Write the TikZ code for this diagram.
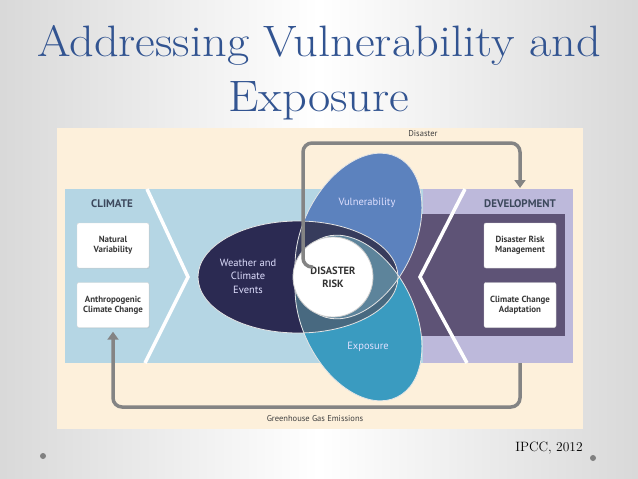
\documentclass[tikz,border=0pt]{standalone}
\usepackage{fontspec}
\setsansfont{PT Sans}
\usepackage{tikz}
\usetikzlibrary{arrows.meta, shadows}

\definecolor{titleblue}{RGB}{50,84,145}
\definecolor{cream}{RGB}{253,240,219}
\definecolor{climblue}{RGB}{181,214,228}
\definecolor{devlav}{RGB}{189,185,219}
\definecolor{devdark}{RGB}{94,83,118}
\definecolor{wxnavy}{RGB}{43,42,82}
\definecolor{vulnblue}{RGB}{92,130,190}
\definecolor{expoteal}{RGB}{58,155,192}
\definecolor{vxnavy}{RGB}{55,60,92}
\definecolor{exnavy}{RGB}{72,105,128}
\definecolor{vexteal}{RGB}{93,132,155}
\definecolor{loopgray}{RGB}{132,132,132}
\definecolor{boxtext}{RGB}{55,55,55}
\definecolor{bandtext}{RGB}{60,72,92}

\begin{document}
\begin{tikzpicture}[x=1pt, y=-1pt,
  sidebox/.style={draw=gray!30, fill=white, rounded corners=2pt, minimum width=72pt, minimum height=45pt, align=center, text=boxtext, drop shadow={opacity=0.15, shadow xshift=0.8pt, shadow yshift=-0.8pt}, font=\sffamily\bfseries\fontsize{8.9}{10}\selectfont},
  bandlabel/.style={text=bandtext, font=\sffamily\bfseries\fontsize{11}{12}\selectfont},
  petaltext/.style={text=white!88!blue, align=center, font=\sffamily\fontsize{10.5}{13.5}\selectfont},
  looplabel/.style={text=black!75, font=\sffamily\fontsize{8.5}{9}\selectfont},
  loopline/.style={draw=loopgray, line width=3.5pt, rounded corners=9pt},
  chevron/.style={draw=white, line width=3.5pt},
  petaledge/.style={draw=white!80!gray, line width=0.8pt}]
  \useasboundingbox (0,0) rectangle (638,479);
  \shade[left color=black!15, right color=black!15, middle color=white] (0,0) rectangle (638,479);

  % title
  \begin{scope}[xscale=1.1, transform shape]
    \node[anchor=base, text=titleblue, align=center, font=\fontsize{44}{55}\selectfont] (title) at (290,111) {Addressing Vulnerability and\\Exposure};
  \end{scope}

  % panel and bands
  \fill[cream] (57,128) rectangle (583,429);
  \fill[climblue] (65,189) rectangle (423,363);
  \fill[devlav] (423,189) rectangle (573,363);
  \fill[devdark] (380,214) rectangle (565,336);
  \draw[chevron] (147,189) -- (188,277) -- (145,363);
  \draw[chevron] (465,189) -- (420,277) -- (467,363);

  \node[bandlabel] (climate) at (112,204) {CLIMATE};
  \node[bandlabel] (development) at (520,204) {DEVELOPMENT};
  \node[sidebox] (natural) at (113,245.5) {Natural\\Variability};
  \node[sidebox] (anthro) at (113,305) {Anthropogenic\\Climate Change};
  \node[sidebox] (drm) at (520,245.5) {Disaster Risk\\Management};
  \node[sidebox] (cca) at (520,305) {Climate Change\\Adaptation};

  % petals
  \fill[wxnavy] (298,277) ellipse (100 and 56);
  \fill[vulnblue, rotate around={64:(358.5,236)}] (358.5,236) ellipse (88 and 56);
  \fill[expoteal, rotate around={-64:(358.5,318)}] (358.5,318) ellipse (88 and 56);
  \begin{scope}
    \clip (298,277) ellipse (100 and 56);
    \fill[vxnavy, rotate around={64:(358.5,236)}] (358.5,236) ellipse (88 and 56);
    \fill[exnavy, rotate around={-64:(358.5,318)}] (358.5,318) ellipse (88 and 56);
  \end{scope}
  \begin{scope}
    \clip[rotate around={64:(358.5,236)}] (358.5,236) ellipse (88 and 56);
    \fill[vexteal, rotate around={-64:(358.5,318)}] (358.5,318) ellipse (88 and 56);
  \end{scope}
  \draw[petaledge] (298,277) ellipse (100 and 56);
  \draw[petaledge, rotate around={64:(358.5,236)}] (358.5,236) ellipse (88 and 56);
  \draw[petaledge, rotate around={-64:(358.5,318)}] (358.5,318) ellipse (88 and 56);

  \node[petaltext] (weather) at (248,276) {Weather and\\Climate\\Events};
  \node[petaltext] (vuln) at (367,203) {Vulnerability};
  \node[petaltext] (expo) at (368,347) {Exposure};
  \node[circle, fill=white, draw=gray!40, line width=0.8pt, minimum size=80pt, inner sep=0pt, align=center, text=black!80, font=\sffamily\bfseries\fontsize{10.5}{13}\selectfont] (risk) at (333,277) {DISASTER\\RISK};

  % loops
  \coordinate (riskin) at (313,267);
  \coordinate (devtop) at (520,188);
  \coordinate (devbottom) at (520,363);
  \draw[loopline, -{Triangle[length=8pt, width=11pt]}] (riskin) -- ++(-10,0) |- ([yshift=45pt]devtop) -- (devtop);
  \draw[loopline, -{Triangle[length=8pt, width=11pt]}] (devbottom) -- ++(0,44) -| ([yshift=-4pt]anthro.south);
  \node[looplabel] (disaster) at (423,134) {Disaster};
  \node[looplabel] (ghg) at (315,419) {Greenhouse Gas Emissions};

  \node[font=\fontsize{13.5}{16}\selectfont] (source) at (549,448) {IPCC, 2012};
  \fill[black!50] (43,456) circle (3);
  \fill[black!50] (593,458) circle (3);
\end{tikzpicture}
\end{document}
